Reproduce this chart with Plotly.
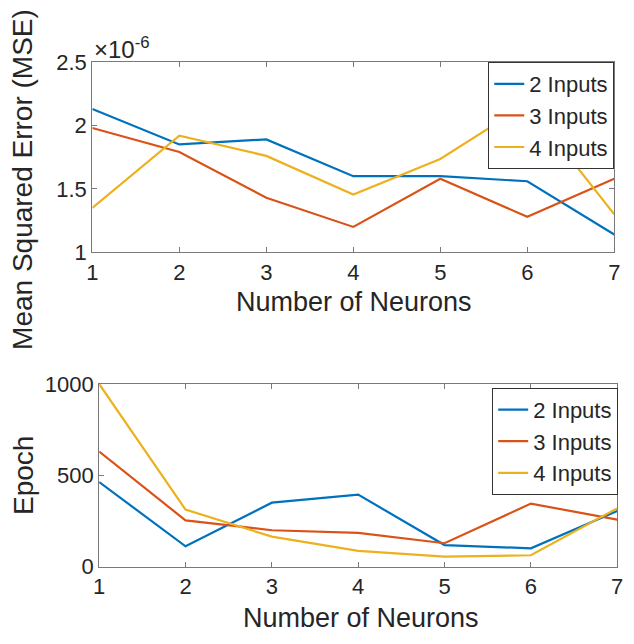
import plotly.graph_objects as go

neurons = [1, 2, 3, 4, 5, 6, 7]
series_names = ["2 Inputs", "3 Inputs", "4 Inputs"]
colors = ["#0072BD", "#D95319", "#EDB120"]

# MSE values (x 1e-6)
mse_2 = [2.13, 1.85, 1.89, 1.60, 1.60, 1.56, 1.14]
mse_3 = [1.98, 1.79, 1.43, 1.20, 1.58, 1.28, 1.58]
mse_4 = [1.35, 1.92, 1.76, 1.455, 1.735, 2.17, 1.30]

epoch_2 = [463, 111, 350, 394, 118, 100, 305]
epoch_3 = [630, 253, 199, 185, 128, 345, 257]
epoch_4 = [1000, 312, 164, 86, 55, 62, 319]

mse_ticks = [1, 1.5, 2, 2.5]
epoch_ticks = [0, 500, 1000]

W, H = 634, 644
FONT = "Liberation Sans, Arial, sans-serif"
TXT = "#262626"
AX = "#7a7a7a"

fig = go.Figure()
for name, vals, c in zip(series_names, [mse_2, mse_3, mse_4], colors):
    fig.add_trace(go.Scatter(x=neurons, y=[v * 1e-6 for v in vals], mode="lines", name=name,
                             line=dict(color=c, width=2.2), xaxis="x", yaxis="y", legend="legend"))
for name, vals, c in zip(series_names, [epoch_2, epoch_3, epoch_4], colors):
    fig.add_trace(go.Scatter(x=neurons, y=vals, mode="lines", name=name,
                             line=dict(color=c, width=2.2), xaxis="x2", yaxis="y2", legend="legend2"))

def px_x(p):
    return p / W

def px_y(p):
    return 1 - p / H

axis_common = dict(showgrid=False, zeroline=False, showline=True, linecolor=AX, linewidth=1.2,
                   mirror="ticks", ticks="inside", ticklen=5, tickcolor=AX,
                   tickfont=dict(family=FONT, size=22, color=TXT))

leg_font = dict(family=FONT, size=22, color=TXT)

fig.update_layout(
    width=W, height=H, margin=dict(l=0, r=0, t=0, b=0),
    paper_bgcolor="white", plot_bgcolor="white",
    font=dict(family=FONT, color=TXT),
    xaxis=dict(domain=[px_x(88), px_x(620)], range=[1, 7], tickvals=neurons, anchor="y", **axis_common),
    yaxis=dict(domain=[px_y(250), px_y(52)], range=[1e-6, 2.5e-6],
               tickvals=[t * 1e-6 for t in mse_ticks], ticktext=[f"{t:g}" for t in mse_ticks],
               anchor="x", **axis_common),
    xaxis2=dict(domain=[px_x(95), px_x(623)], range=[1, 7], tickvals=neurons, anchor="y2", **axis_common),
    yaxis2=dict(domain=[px_y(577), px_y(387)], range=[0, 1000], tickvals=epoch_ticks,
                anchor="x2", **axis_common),
    legend=dict(x=px_x(620), y=px_y(52), xanchor="right", yanchor="top",
                bgcolor="white", bordercolor="#333", borderwidth=1,
                font=leg_font, tracegroupgap=0, itemwidth=30),
    legend2=dict(x=px_x(624), y=px_y(391), xanchor="right", yanchor="top",
                 bgcolor="white", bordercolor="#333", borderwidth=1,
                 font=leg_font, tracegroupgap=0, itemwidth=30),
    showlegend=True,
)

ann = [
    dict(text="×10<sup>-6</sup>", x=px_x(88), y=px_y(37), xanchor="left", yanchor="middle", size=24),
    dict(text="Mean Squared Error (MSE)", x=px_x(17), y=px_y(174), textangle=-90,
         xanchor="center", yanchor="middle", size=28),
    dict(text="Number of Neurons", x=px_x(355), y=px_y(302), xanchor="center", yanchor="middle", size=27),
    dict(text="Epoch", x=px_x(18), y=px_y(482), textangle=-90,
         xanchor="center", yanchor="middle", size=28),
    dict(text="Number of Neurons", x=px_x(362), y=px_y(630), xanchor="center", yanchor="middle", size=27),
]
for a in ann:
    size = a.pop("size")
    a.update(xref="paper", yref="paper", showarrow=False,
             font=dict(family=FONT, color=TXT, size=size))
fig.update_layout(annotations=ann)

fig.write_html("out.html")
